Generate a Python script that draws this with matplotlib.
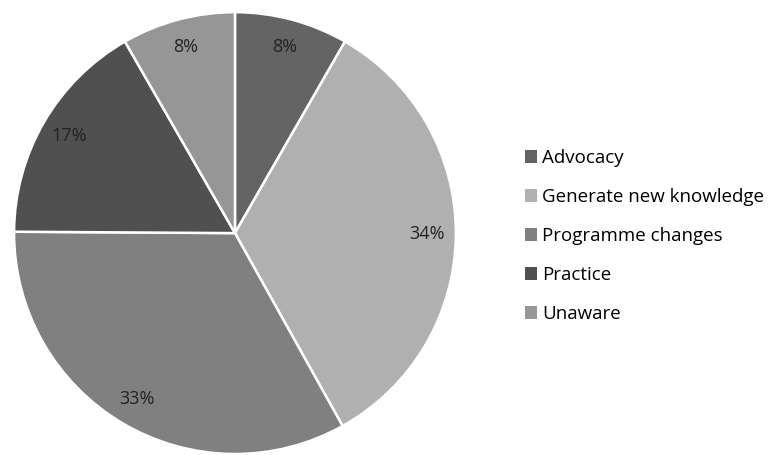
import matplotlib
matplotlib.use("Agg")
import matplotlib.pyplot as plt
from matplotlib.patches import Patch

categories = ["Advocacy", "Generate new knowledge", "Programme changes", "Practice", "Unaware"]
values = [8.3, 33.6, 33.2, 16.6, 8.3]
colors = ["#646464", "#b0b0b0", "#808080", "#505050", "#969696"]

plt.rcParams['font.family'] = ['Open Sans', 'DejaVu Sans']

fig = plt.figure(figsize=(7.68, 4.55), dpi=100)
ax = fig.add_axes([0.0182, 0.0022, 0.5755, 0.971])
wedges, texts, autotexts = ax.pie(
    values, colors=colors, startangle=90, counterclock=False,
    autopct=lambda p: f"{round(p):d}%", pctdistance=0.87,
    wedgeprops=dict(edgecolor="white", linewidth=1.8),
    textprops=dict(fontsize=13, color="#222222"))
ax.set_xlim(-1.0, 1.0)
ax.set_ylim(-1.0, 1.0)
ax.set_aspect("equal")

handles = [Patch(facecolor=c, edgecolor="none") for c in colors]
fig.legend(handles, categories, loc="upper left", bbox_to_anchor=(0.683, 0.672),
           frameon=False, fontsize=13.5, handlelength=0.65, handleheight=0.65,
           handletextpad=0.3, labelspacing=1.12, borderpad=0, borderaxespad=0)

fig.savefig("out.png", dpi=100)
